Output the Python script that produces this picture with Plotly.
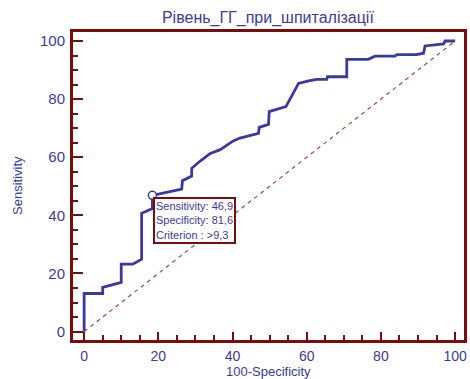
import plotly.graph_objects as go

# ROC curve (100-Specificity, Sensitivity)
fpr = [0, 0, 5.0, 5.0, 10.0, 10.0, 13.1, 15.5, 15.5, 17.8, 18.4, 18.4, 26.3, 26.5, 29.0, 29.0,
       31.3, 34.0, 36.7, 40.2, 42.0, 47.0, 47.2, 49.7, 49.9, 54.4, 57.8, 60.5, 62.7, 65.4, 65.6,
       70.8, 70.8, 76.6, 78.4, 83.8, 84.3, 89.6, 91.5, 91.9, 94.6, 96.9, 97.3, 100]
tpr = [0, 13.1, 13.1, 15.2, 16.9, 23.2, 23.2, 24.9, 40.7, 42.1, 42.3, 46.9, 49.0, 51.9, 53.5, 56.2,
       58.7, 61.3, 62.6, 65.6, 66.6, 68.2, 70.3, 71.3, 75.7, 77.4, 85.4, 86.3, 86.8, 86.8, 87.7,
       87.7, 93.7, 93.7, 94.8, 94.8, 95.3, 95.3, 95.8, 98.3, 98.7, 99.0, 100, 100]
diag_x = [0, 100]
diag_y = [0, 100]
opt_x = [18.4]
opt_y = [46.9]
ann_lines = ["Sensitivity: 46,9", "Specificity: 81,6", "Criterion : >9,3"]
title_text = "Рівень_ГГ_при_шпиталізації"
x_title = "100-Specificity"
y_title = "Sensitivity"

blue = "#3a3a9e"
dred = "#7a0c0c"
font = "Liberation Sans, Arial, sans-serif"

fig = go.Figure()
fig.add_trace(go.Scatter(x=diag_x, y=diag_y, mode="lines",
                         line=dict(color="#a04848", width=1.2, dash="4px,4px"),
                         hoverinfo="skip"))
fig.add_trace(go.Scatter(x=fpr, y=tpr, mode="lines",
                         line=dict(color=blue, width=2.8)))
fig.add_trace(go.Scatter(x=opt_x, y=opt_y, mode="markers",
                         marker=dict(symbol="circle", size=8, color="white",
                                     line=dict(color=blue, width=1.5))))

fig.add_annotation(x=opt_x[0], y=opt_y[0], xref="x", yref="y",
                   text="<br>".join(ann_lines), showarrow=False,
                   xanchor="left", yanchor="top", align="left",
                   xshift=1, yshift=-2,
                   font=dict(family=font, size=11, color=blue),
                   bgcolor="white", bordercolor=dred, borderwidth=2, borderpad=1)

# axis titles placed as annotations
fig.add_annotation(x=0.499, y=0, xref="paper", yref="paper", text=x_title,
                   showarrow=False, xanchor="center", yanchor="middle", yshift=-31,
                   borderpad=0,
                   font=dict(family=font, size=13, color=blue))
fig.add_annotation(x=0, y=0.5, xref="paper", yref="paper", text=y_title,
                   showarrow=False, xanchor="center", yanchor="middle", xshift=-56,
                   textangle=-90, font=dict(family=font, size=13, color=blue))

axis_common = dict(
    showline=True, linecolor=dred, linewidth=3, mirror=True,
    ticks="inside", tickcolor=dred, tickwidth=2, dtick=20, tick0=0,
    minor=dict(dtick=5, ticks="inside", ticklen=5, tickcolor=dred, tickwidth=1.5),
    showgrid=False, zeroline=False, automargin=False,
)

fig.update_layout(
    width=470, height=379,
    margin=dict(l=73, r=6, t=32, b=39),
    paper_bgcolor="white", plot_bgcolor="white",
    showlegend=False,
    title=dict(text=title_text, x=0.57, xanchor="center", y=0.955, yanchor="middle",
               font=dict(family=font, size=16, color=blue)),
    xaxis=dict(range=[-3, 102.4], ticklen=8, ticklabelstandoff=1,
               tickfont=dict(family=font, size=14, color=blue), **axis_common),
    yaxis=dict(range=[-2.9, 103.1], ticklen=10, ticklabelstandoff=2,
               tickfont=dict(family=font, size=15, color=blue), **axis_common),
)

fig.write_html("out.html")
